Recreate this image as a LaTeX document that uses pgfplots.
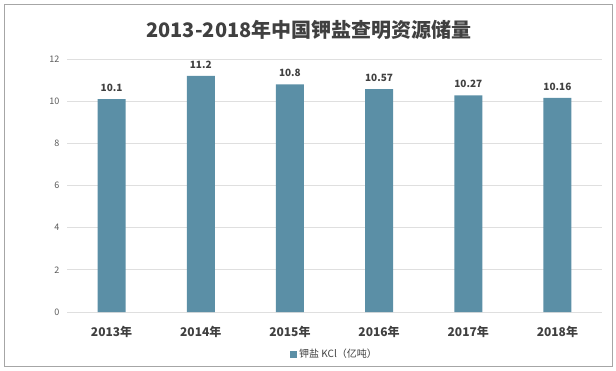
\documentclass[border=0pt]{standalone}
\usepackage{pgfplots}
\pgfplotsset{compat=1.18}
\usepackage{fontspec}
\setmainfont{Noto Sans CJK SC}
\definecolor{barc}{RGB}{91,143,166}
\definecolor{txt}{RGB}{64,64,64}
\definecolor{tick}{RGB}{89,89,89}
\begin{document}
\begin{tikzpicture}[x=1bp,y=1bp]
\path[use as bounding box] (0,0) rectangle (616,370);
\draw[gray!70, line width=0.8bp] (4,4) rectangle (612,366);
\node[font=\fontsize{20bp}{22bp}\selectfont\bfseries, text=txt] at (309,340) {2013-2018年中国钾盐查明资源储量};
\begin{axis}[
  at={(67bp,58bp)}, anchor=south west,
  scale only axis, width=535bp, height=253bp,
  ybar, bar width=28bp,
  xmin=-0.5, xmax=5.5, ymin=0, ymax=12,
  xtick={0,1,2,3,4,5},
  xticklabels={2013年,2014年,2015年,2016年,2017年,2018年},
  ytick={0,2,4,6,8,10,12},
  ymajorgrids, grid style={gray!25, line width=0.8bp},
  axis line style={draw=none},
  major tick length=0pt,
  x tick label style={font=\fontsize{12bp}{14bp}\selectfont\bfseries, text=txt, yshift=-11bp},
  y tick label style={font=\fontsize{9bp}{11bp}\selectfont, text=tick, xshift=-4bp},
  /pgf/number format/assume math mode=true,
  nodes near coords,
  every node near coord/.append style={font=\fontsize{10bp}{12bp}\selectfont\bfseries, text=txt, yshift=4bp},
  point meta=explicit symbolic,
  legend style={at={(0.5,-0.166)}, anchor=center, draw=none, font=\fontsize{10bp}{12bp}\selectfont, text=txt, fill=none},
  legend image code/.code={\fill[barc] (0bp,-3.5bp) rectangle (7bp,3.5bp);},
]
\addplot[fill=barc, draw=none] coordinates {(0,10.1)[10.1] (1,11.2)[11.2] (2,10.8)[10.8] (3,10.57)[10.57] (4,10.27)[10.27] (5,10.16)[10.16]};
\addlegendentry{钾盐 KCl（亿吨）}
\end{axis}
\end{tikzpicture}
\end{document}
